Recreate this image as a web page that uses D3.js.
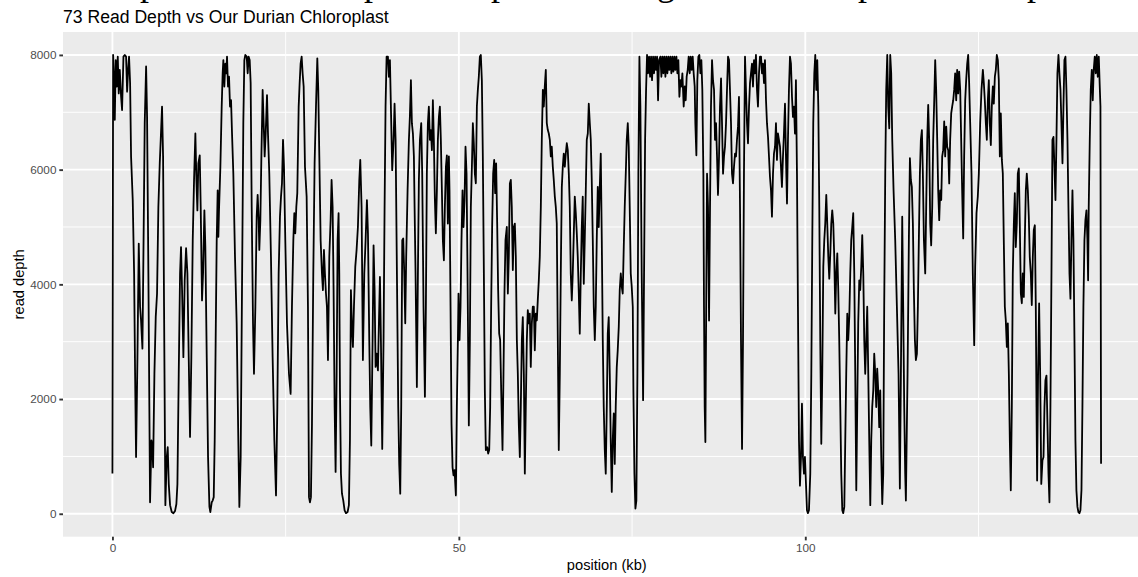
<!DOCTYPE html>
<html><head><meta charset="utf-8">
<script src="https://cdn.jsdelivr.net/npm/d3@7"></script>
<style>
body{margin:0;background:#fff}
svg{display:block}
text{font-family:"Liberation Sans",Arial,Helvetica,sans-serif}
</style>
</head><body><svg id="chart" width="1138" height="577"></svg>
<script>
// ---- data (position in kb, read depth) ----
const positionKb = [
0,0.1,0.24,0.34,0.48,0.63,0.77,0.91,1.06,1.25,
1.39,1.59,1.78,1.97,2.12,2.26,2.4,2.55,2.69,2.93,
3.13,3.27,3.41,3.61,3.8,3.99,4.13,4.33,4.47,4.66,
4.86,5.0,5.19,5.43,5.63,5.77,5.87,6.06,6.25,6.44,
6.63,6.83,6.97,7.16,7.31,7.45,7.64,7.84,7.98,8.13,
8.32,8.56,8.8,9.04,9.23,9.38,9.57,9.76,9.9,10.05,
10.24,10.43,10.63,10.82,11.01,11.2,11.39,11.59,11.78,11.97,
12.12,12.26,12.4,12.6,12.74,12.93,13.08,13.27,13.41,13.61,
13.8,14.0,14.13,14.33,14.47,14.62,14.76,14.9,15.05,15.19,
15.29,15.38,15.58,15.77,15.91,16.01,16.15,16.3,16.44,16.54,
16.68,16.83,16.97,17.12,17.26,17.45,17.69,17.93,18.17,18.32,
18.51,18.7,18.89,19.04,19.18,19.38,19.52,19.66,19.81,19.95,
20.1,20.29,20.43,20.63,20.82,20.96,21.11,21.2,21.35,21.49,
21.68,21.83,21.97,22.12,22.31,22.45,22.64,22.88,23.12,23.37,
23.61,23.8,23.99,24.18,24.33,24.47,24.62,24.76,24.95,25.19,
25.48,25.72,25.91,26.11,26.25,26.39,26.54,26.68,26.88,27.02,
27.16,27.31,27.45,27.6,27.79,28.03,28.22,28.37,28.51,28.65,
28.8,28.99,29.18,29.38,29.57,29.71,29.86,30.05,30.24,30.38,
30.53,30.67,30.82,30.96,31.11,31.3,31.49,31.63,31.78,31.92,
32.07,32.21,32.36,32.5,32.64,32.74,32.84,32.98,33.13,33.32,
33.51,33.7,33.94,34.13,34.28,34.42,34.57,34.71,34.86,35.05,
35.24,35.43,35.63,35.77,35.96,36.15,36.35,36.54,36.73,36.88,
37.07,37.21,37.36,37.55,37.69,37.84,37.98,38.13,38.32,38.46,
38.61,38.75,38.94,39.13,39.28,39.42,39.57,39.76,39.9,40.05,
40.19,40.38,40.58,40.72,40.87,41.06,41.25,41.39,41.54,41.68,
41.83,41.97,42.12,42.26,42.4,42.6,42.79,42.93,43.08,43.22,
43.37,43.51,43.61,43.75,43.94,44.09,44.23,44.38,44.57,44.71,
44.9,45.1,45.24,45.38,45.53,45.67,45.82,45.96,46.11,46.25,
46.39,46.54,46.68,46.83,46.97,47.12,47.26,47.4,47.55,47.69,
47.84,47.98,48.13,48.27,48.41,48.56,48.65,48.8,48.94,49.09,
49.23,49.38,49.57,49.71,49.86,49.95,50.1,50.24,50.38,50.53,
50.67,50.82,50.96,51.11,51.25,51.44,51.59,51.73,51.88,52.02,
52.16,52.31,52.45,52.6,52.74,52.88,53.03,53.17,53.32,53.46,
53.61,53.75,53.89,54.09,54.23,54.38,54.52,54.66,54.81,54.95,
55.1,55.24,55.38,55.53,55.67,55.82,55.96,56.11,56.3,56.44,
56.59,56.73,56.92,57.07,57.21,57.36,57.5,57.64,57.79,57.93,
58.08,58.22,58.37,58.51,58.65,58.8,58.94,59.09,59.23,59.38,
59.52,59.66,59.81,59.95,60.1,60.24,60.38,60.53,60.67,60.82,
60.96,61.11,61.25,61.39,61.54,61.68,61.83,61.97,62.12,62.26,
62.4,62.55,62.69,62.84,62.98,63.13,63.27,63.41,63.56,63.7,
63.85,63.99,64.13,64.28,64.42,64.57,64.71,64.86,65.0,65.14,
65.29,65.43,65.58,65.72,65.87,66.01,66.15,66.3,66.44,66.59,
66.73,66.88,67.02,67.16,67.31,67.45,67.6,67.74,67.88,68.03,
68.17,68.32,68.46,68.61,68.75,68.9,69.04,69.18,69.33,69.47,
69.62,69.76,69.9,70.05,70.19,70.34,70.48,70.63,70.77,70.91,
71.06,71.2,71.35,71.49,71.63,71.78,71.92,72.07,72.21,72.36,
72.5,72.64,72.79,72.93,73.08,73.22,73.37,73.51,73.65,73.8,
73.94,74.09,74.23,74.38,74.52,74.66,74.81,74.95,75.1,75.19,
75.34,75.48,75.62,75.77,75.91,76.06,76.2,76.39,76.59,76.73,
76.88,77.02,77.16,77.31,77.45,77.6,77.74,77.88,78.03,78.17,
78.32,78.46,78.61,78.75,78.89,79.09,79.23,79.38,79.52,79.66,
79.81,79.95,80.1,80.24,80.38,80.53,80.67,80.82,80.96,81.11,
81.25,81.4,81.54,81.68,81.83,81.97,82.12,82.26,82.45,82.6,
82.74,82.88,83.03,83.17,83.32,83.46,83.61,83.75,83.89,84.04,
84.13,84.28,84.42,84.57,84.71,84.86,85.0,85.14,85.29,85.38,
85.48,85.58,85.67,85.82,85.96,86.11,86.25,86.39,86.54,86.68,
86.83,86.97,87.12,87.26,87.4,87.55,87.69,87.84,87.98,88.13,
88.27,88.41,88.56,88.7,88.85,88.99,89.13,89.28,89.42,89.57,
89.71,89.86,90.0,90.14,90.29,90.43,90.58,90.72,90.87,91.01,
91.15,91.3,91.44,91.59,91.73,91.88,92.02,92.16,92.31,92.45,
92.6,92.74,92.88,93.03,93.17,93.32,93.46,93.61,93.75,93.89,
94.04,94.18,94.33,94.47,94.62,94.76,94.9,95.05,95.19,95.34,
95.48,95.63,95.77,95.91,96.06,96.2,96.35,96.49,96.63,96.78,
96.92,97.07,97.21,97.36,97.5,97.64,97.79,97.93,98.08,98.22,
98.37,98.51,98.65,98.8,98.94,99.09,99.23,99.38,99.52,99.66,
99.81,99.95,100.1,100.24,100.38,100.53,100.72,100.87,101.01,101.15,
101.3,101.44,101.59,101.73,101.88,102.02,102.16,102.31,102.45,102.6,
102.74,102.88,103.03,103.17,103.32,103.46,103.61,103.75,103.89,104.04,
104.18,104.33,104.47,104.62,104.76,104.9,105.05,105.19,105.34,105.48,
105.63,105.77,105.91,106.06,106.2,106.35,106.49,106.63,106.78,106.92,
107.07,107.21,107.36,107.5,107.64,107.79,107.93,108.08,108.22,108.37,
108.51,108.65,108.8,108.94,109.09,109.23,109.38,109.52,109.66,109.81,
109.95,110.1,110.24,110.38,110.53,110.67,110.82,110.96,111.11,111.25,
111.39,111.54,111.68,111.83,111.97,112.12,112.26,112.4,112.55,112.74,
112.98,113.22,113.46,113.65,113.8,113.99,114.13,114.28,114.42,114.52,
114.76,114.95,115.1,115.24,115.38,115.53,115.67,115.82,115.96,116.11,
116.25,116.39,116.54,116.68,116.83,116.97,117.12,117.31,117.45,117.6,
117.74,117.88,118.03,118.17,118.32,118.46,118.61,118.75,118.89,119.04,
119.18,119.33,119.47,119.62,119.76,119.9,120.05,120.19,120.34,120.48,
120.63,120.77,120.91,121.06,121.2,121.35,121.49,121.63,121.78,121.92,
122.07,122.21,122.36,122.5,122.64,122.79,122.93,123.08,123.22,123.37,
123.51,123.65,123.8,123.99,124.18,124.38,124.52,124.71,124.9,125.05,
125.24,125.43,125.63,125.77,125.91,126.06,126.2,126.35,126.49,126.63,
126.78,126.92,127.07,127.21,127.36,127.5,127.64,127.79,127.93,128.08,
128.22,128.37,128.51,128.65,128.8,128.94,129.09,129.23,129.38,129.52,
129.66,129.81,129.95,130.1,130.24,130.38,130.53,130.67,130.82,130.96,
131.11,131.25,131.39,131.54,131.68,131.83,131.97,132.12,132.26,132.4,
132.55,132.69,132.84,132.98,133.13,133.27,133.37,133.46,133.6,133.75,
133.9,134.06,134.23,134.38,134.52,134.66,134.81,134.95,135.1,135.24,
135.38,135.53,135.67,135.82,135.96,136.11,136.25,136.39,136.54,136.68,
136.83,136.97,137.12,137.26,137.4,137.55,137.69,137.84,137.98,138.13,
138.27,138.41,138.56,138.7,138.85,138.99,139.13,139.28,139.42,139.57,
139.71,139.86,140.0,140.14,140.29,140.43,140.58,140.72,140.82,140.91,
141.06,141.2,141.35,141.49,141.63,141.78,141.92,142.07,142.21,142.36,
142.5,142.6,142.69
];
const readDepth = [
700,8000,7560,6870,7910,7450,7970,7330,7740,7270,
7040,7970,8000,7970,7360,7740,7970,7510,6230,5470,
4190,2440,990,2730,4710,3610,3370,2880,4480,6810,
7800,6920,4190,200,1280,1160,810,2440,3430,3840,
5350,6110,6520,7100,6230,3610,150,990,1160,520,
150,30,10,50,170,520,2440,4190,4650,3900,
2730,4070,4630,4190,2730,1340,2730,4770,5820,6630,
5820,5290,6110,6250,5350,3720,4190,5290,4650,2730,
990,120,30,200,230,290,1280,3030,4770,5640,
4830,5290,6050,7100,7680,7910,7450,7850,7680,7970,
7450,7620,7100,7210,6630,5930,4480,3320,1280,120,
990,3900,6810,7910,8000,7970,7680,7970,7910,7510,
5350,3320,2440,3610,5180,5560,5120,4600,5120,6170,
7390,6810,6230,6630,7300,6630,5930,4480,2730,1280,
320,1860,4190,5180,5530,5760,6520,6050,4770,3320,
2440,2090,3610,4770,5240,4890,5350,5590,7100,7510,
7850,7970,7680,7450,6050,5530,3610,290,200,290,
1570,4190,6110,7100,7940,7390,6230,4770,4190,3900,
4600,4190,3840,3610,2680,4480,5120,5820,5350,3900,
1860,730,2440,4770,5240,4190,2150,700,350,230,
60,10,30,150,1280,3900,3260,2910,3610,4310,
4600,5000,5820,6170,5350,2680,4190,4770,5470,4890,
3030,1860,1190,3030,4680,3900,2560,2790,2500,3320,
4130,3030,1130,3030,5350,7100,7970,7970,7620,7910,
7100,5990,6520,7150,6520,4190,1860,870,350,1860,
4770,4800,4190,3320,4480,5640,6520,6920,7560,6810,
6630,6230,5350,4190,2210,4190,5820,6520,6810,5930,
3610,2040,3610,5930,6810,7100,6520,6690,6340,7210,
6520,5470,4890,5640,6520,6920,7100,6520,5640,4770,
4420,5350,6050,6250,5060,6230,5640,3610,1570,810,
670,760,320,1860,3030,3840,3030,3610,4770,5640,
5000,5470,6400,5930,4190,1540,3030,5350,6050,6810,
6460,5930,5760,7100,7390,7620,7970,8000,7560,6230,
4190,2150,1110,1160,1050,1110,1860,3610,5060,5930,
6170,5590,6110,5060,3900,3140,3030,2150,1110,2440,
3900,4770,5000,3840,4480,5760,5820,5350,4250,5000,
5060,4480,3030,2440,1570,990,1860,3030,3430,2440,
700,1860,3030,3550,3320,3490,2560,3320,3610,3610,
2850,3490,3370,3720,4070,4480,5350,6520,7390,7100,
7450,7740,6810,6690,6630,6520,6230,6400,6050,5820,
5530,5350,5060,3030,1110,2440,4190,5700,6050,6280,
6050,6280,6460,6340,5930,5350,4190,3720,4190,4890,
5530,5240,4890,4480,3840,3140,4190,5000,5530,4010,
4770,5640,6520,6630,7150,6810,6520,5820,4770,3610,
3030,3610,4770,5700,5000,5700,6280,4770,3030,1860,
1110,700,1860,3140,3430,2440,1280,380,1280,1750,
870,1860,2560,2850,3260,3900,4190,3960,3840,4650,
5350,5930,6520,6810,6400,5350,4190,3960,3610,2150,
700,90,230,2440,5930,7970,7100,4190,1980,4190,
6520,7390,8000,7680,7970,7620,7970,7560,7970,7680,
7970,7740,7970,7210,7910,7970,7620,7970,7680,7970,
7620,7970,7680,7970,7740,7970,7680,7970,7710,7970,
7740,7970,7680,7910,7270,7560,7450,7680,7100,7450,
7210,7620,7740,7970,7680,7970,7740,7970,7680,7450,
6810,6250,7560,7970,8000,7680,7910,7390,5930,3610,
1860,1250,3030,5930,5350,3370,5350,7100,7910,7560,
7390,6520,6810,6230,5560,6230,7100,7590,6810,5930,
6230,6400,6810,7390,7970,7910,7390,6810,5930,5760,
6050,6280,6230,6520,6750,7270,5350,3030,1130,3030,
5930,7970,7390,6810,6460,7100,7510,7680,7850,7450,
7910,7680,8000,7390,7100,7680,7970,7970,7680,7850,
7510,7910,7210,6810,6570,6230,5880,5640,5180,5930,
6280,6400,6810,6170,6630,6520,6400,6050,5700,6230,
6630,7150,6230,5410,6520,7390,7970,7850,7270,6920,
7100,6630,7560,5930,3610,1280,490,990,1920,990,
700,990,520,60,10,60,700,2440,4770,6810,
7680,8000,7390,7910,7100,5350,3030,1220,2440,4310,
4770,5060,5560,5060,4480,4100,4540,5060,5290,5060,
4480,3490,4190,4540,3900,3030,1860,700,60,10,
120,1280,2440,3490,3030,3430,4190,4770,5000,5240,
4190,2440,410,1860,3320,4070,3900,4310,4860,4190,
3030,2440,3030,3610,2440,1280,150,1280,1860,2150,
2790,2440,1860,2530,2150,1510,2150,990,170,700,
3610,5930,7390,8000,7100,6720,8000,7680,6520,5640,
4770,3610,2440,440,2440,5180,3610,1860,700,230,
2440,4770,6200,5820,5700,5060,3900,3030,2680,2790,
3610,4770,5930,6520,6690,5930,4770,4190,5350,6520,
7130,6520,5060,4680,5350,6520,7210,7910,7390,6520,
5640,5120,5640,5470,6230,6340,6840,6230,6750,6400,
6340,5760,6520,6980,7100,7210,7390,7680,7210,7740,
7330,7710,7390,6520,5640,4800,6230,7210,7560,7850,
8000,7510,6810,5930,4190,2940,4310,5240,5530,5930,
6810,7390,7740,7510,7210,6810,6520,7210,7560,6810,
6430,7100,7450,7150,7620,7740,8000,7910,7560,6230,
6980,6170,5930,4770,3610,3370,2910,3320,2440,1280,
410,1860,4190,5060,5590,4650,5060,5930,6020,5060,
3840,3670,4190,3780,4770,5640,5930,5640,5180,4480,
4190,3640,4480,4950,5030,3610,1860,580,2440,3670,
2440,520,930,990,1860,2330,2410,1570,700,200,
1860,4190,6520,6570,6050,5470,6520,7680,8000,7680,
7390,6810,6110,7100,7910,7970,7390,6520,5350,4190,
3750,4770,5640,4770,3030,1280,410,120,30,10,
60,410,1860,3610,4770,5120,5290,4770,4070,5350,
6520,7390,7740,7210,7740,7970,7680,8000,7620,7970,
7450,7100,870
];
const xMajorTicks = [0, 50, 100, 150];
const xMinorTicks = [25, 75, 125];
const yMajorTicks = [0, 2000, 4000, 6000, 8000];
const yMinorTicks = [1000, 3000, 5000, 7000];
const chartTitle = "73 Read Depth vs Our Durian Chloroplast";
const xAxisTitle = "position (kb)";
const yAxisTitle = "read depth";
// fragments of a larger caption line cut off by the top edge of the picture
const cutCaptionGlyphs = ["p", "p", "p", "g", "p", "p"];
const cutCaptionX = [140, 364, 491, 657, 858, 1027];

// ---- layout ----
const svg = d3.select("#chart");
const panel = {left: 63, top: 32, bottom: 536.7, right: 1150.5};

const points = d3.zip(positionKb, readDepth);
const xExt = d3.extent(positionKb);
const xPad = (xExt[1] - xExt[0]) * 0.05;
const yExt = [0, 8000];
const yPad = (yExt[1] - yExt[0]) * 0.05;

const x = d3.scaleLinear().domain([xExt[0] - xPad, xExt[1] + xPad]).range([panel.left, panel.right]);
const y = d3.scaleLinear().domain([yExt[0] - yPad, yExt[1] + yPad]).range([panel.bottom, panel.top]);

// cut caption fragments
svg.append("g").selectAll("text").data(cutCaptionGlyphs).join("text")
  .attr("x", (d, i) => cutCaptionX[i]).attr("y", -4.6)
  .style("font-family", "'Liberation Serif','Times New Roman',serif")
  .style("font-size", "36px").attr("fill", "#000").text(d => d);

// panel background
svg.append("rect").attr("x", panel.left).attr("y", panel.top)
  .attr("width", panel.right - panel.left).attr("height", panel.bottom - panel.top)
  .attr("fill", "#EBEBEB");

const grid = svg.append("g");
grid.selectAll(".ymin").data(yMinorTicks).join("line")
  .attr("x1", panel.left).attr("x2", panel.right)
  .attr("y1", d => y(d)).attr("y2", d => y(d))
  .attr("stroke", "#fff").attr("stroke-width", 0.95);
grid.selectAll(".xmin").data(xMinorTicks).join("line")
  .attr("y1", panel.top).attr("y2", panel.bottom)
  .attr("x1", d => x(d)).attr("x2", d => x(d))
  .attr("stroke", "#fff").attr("stroke-width", 0.95);
grid.selectAll(".ymaj").data(yMajorTicks).join("line")
  .attr("x1", panel.left).attr("x2", panel.right)
  .attr("y1", d => y(d)).attr("y2", d => y(d))
  .attr("stroke", "#fff").attr("stroke-width", 1.9);
grid.selectAll(".xmaj").data(xMajorTicks).join("line")
  .attr("y1", panel.top).attr("y2", panel.bottom)
  .attr("x1", d => x(d)).attr("x2", d => x(d))
  .attr("stroke", "#fff").attr("stroke-width", 1.9);

// clip
svg.append("clipPath").attr("id", "clip").append("rect")
  .attr("x", panel.left).attr("y", panel.top)
  .attr("width", panel.right - panel.left).attr("height", panel.bottom - panel.top);

const line = d3.line().x(d => x(d[0])).y(d => y(d[1]));
svg.append("path").datum(points).attr("clip-path", "url(#clip)")
  .attr("d", line).attr("fill", "none").attr("stroke", "#000")
  .attr("stroke-width", 1.8).attr("stroke-linejoin", "round").attr("stroke-linecap", "butt");

// axes
function styleAxis(g) {
  g.select(".domain").remove();
  g.selectAll(".tick line").attr("stroke", "#333333").attr("stroke-width", 1.9);
  g.selectAll(".tick text").attr("fill", "#4D4D4D").style("font-size", "11.73px")
    .style("font-family", "'Liberation Sans',Arial,sans-serif");
}
svg.append("g").attr("transform", `translate(0,${panel.bottom})`)
  .call(d3.axisBottom(x).tickValues(xMajorTicks).tickFormat(d3.format("d")).tickSize(3.67).tickPadding(2.93))
  .call(styleAxis);
svg.append("g").attr("transform", `translate(${panel.left},0)`)
  .call(d3.axisLeft(y).tickValues(yMajorTicks).tickFormat(d3.format("d")).tickSize(3.67).tickPadding(2.93))
  .call(styleAxis);

// titles
svg.append("text").attr("x", panel.left).attr("y", 23.3)
  .style("font-size", "17.6px").attr("fill", "#000").text(chartTitle);
svg.append("text").attr("x", (panel.left + panel.right) / 2).attr("y", 569.5)
  .attr("text-anchor", "middle").style("font-size", "14.67px").attr("fill", "#000").text(xAxisTitle);
svg.append("text").attr("transform", `translate(23.5,${(panel.top + panel.bottom) / 2}) rotate(-90)`)
  .attr("text-anchor", "middle").style("font-size", "14.67px").attr("fill", "#000").text(yAxisTitle);
</script>
</body></html>
